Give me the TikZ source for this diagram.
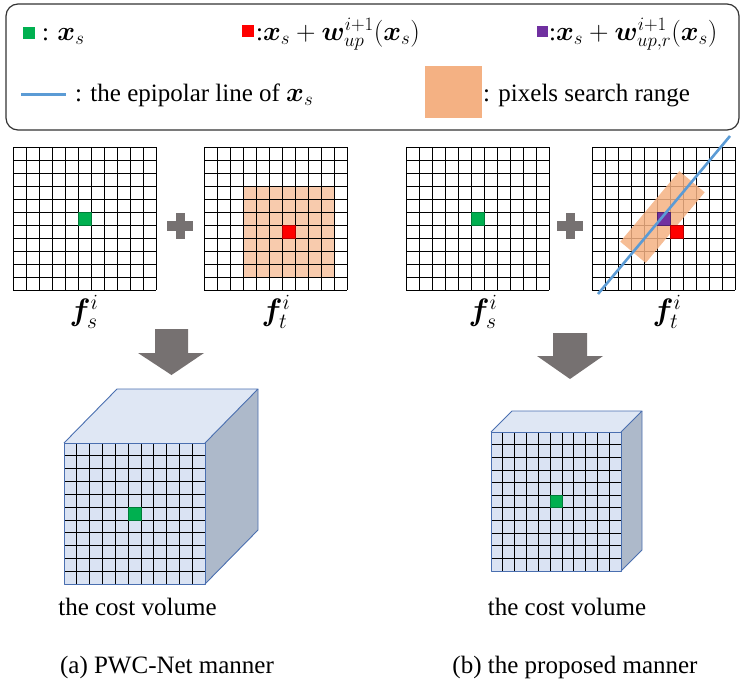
\RequirePackage{fix-cm}
\documentclass[tikz,border=0pt]{standalone}
\usepackage{amsmath,bm}
\usepackage{fontspec}
\setmainfont{Liberation Serif}
\definecolor{cgreen}{HTML}{00B050}
\definecolor{cred}{HTML}{FF0000}
\definecolor{cpurple}{HTML}{7030A0}
\definecolor{corange}{HTML}{F4B183}
\definecolor{corangelight}{HTML}{F8CBAD}
\definecolor{cblue}{HTML}{5B9BD5}
\definecolor{cgray}{HTML}{767171}
\definecolor{cubefront}{HTML}{DAE3F3}
\definecolor{cubetop}{HTML}{DFE7F4}
\definecolor{cubeside}{HTML}{ADB9CA}
\definecolor{cubeedge}{HTML}{4A6FB0}
\newcommand{\featgrid}[2]{%
  \foreach \i in {0,...,11} {
    \draw[gridline] ({#1+\i*13},#2) -- ++(0,143);
    \draw[gridline] (#1,{#2+\i*13}) -- ++(143,0);
  }}
\newcommand{\gridcell}[5]{% x0,y0,col,row,color
  \fill[#5, draw=#5!70!black, line width=0.7pt] ({#1+#3*13},{#2+#4*13}) rectangle ++(13,13);}
\newcommand{\bigmath}[1]{{\fontsize{27}{30}\selectfont$#1$}}
\begin{document}
\begin{tikzpicture}[x=1pt,y=-1pt,
  gridline/.style={line width=0.7pt, black},
  cubeline/.style={draw=cubeedge, line width=0.9pt, line join=round},
  lbl/.style={font=\fontsize{25}{30}\selectfont, inner sep=0pt},
  flbl/.style={font=\fontsize{31}{36}\selectfont, inner sep=0pt},
  plusarm/.style={fill=cgray},
  bigarrow/.style={fill=cgray}]
\useasboundingbox (0,0) rectangle (747,696);

% ---------- legend ----------
\draw[line width=1.2pt, black!80, rounded corners=12pt] (6,4) rectangle (739,130);
\fill[cgreen] (23,27) rectangle (35,39);
\node[lbl, anchor=base west] (lg1) at (42,40) {: \bigmath{\bm{x}_s}};
\fill[cred] (242,25) rectangle (254,37);
\node[lbl, anchor=base west] (lg2) at (256,40) {:\bigmath{\bm{x}_s+\bm{w}_{up}^{i+1}(\bm{x}_s)}};
\fill[cpurple] (537,26) rectangle (548,37);
\node[lbl, anchor=base west] (lg3) at (549,40) {:\bigmath{\bm{x}_s+\bm{w}_{up,r}^{i+1}(\bm{x}_s)}};
\draw[cblue, line width=3pt] (21,94) -- (66,94);
\node[lbl, anchor=base west] (lg4) at (75,101) {: the epipolar line of \bigmath{\bm{x}_s}};
\fill[corange] (425,66) rectangle (482,118);
\node[lbl, anchor=base west] (lg5) at (483,101) {: pixels search range};

% ---------- (a) grids ----------
\featgrid{13}{147}
\gridcell{13}{147}{5}{5}{cgreen}
\fill[corangelight] (243,186) rectangle (334,277);
\featgrid{204}{147}
\gridcell{204}{147}{6}{6}{cred}
\node[flbl] (fsa) at (84,312) {$\bm{f}_s^i$};
\node[flbl] (fta) at (276,312) {$\bm{f}_t^i$};
\fill[plusarm] (175.5,213) rectangle (184.5,239);
\fill[plusarm] (167,221) rectangle (193,231);

% ---------- (b) grids ----------
\featgrid{406}{147}
\gridcell{406}{147}{5}{5}{cgreen}
\featgrid{592}{147}
\fill[corange, opacity=0.85] (679.3,171.1) -- (704.7,192.3) -- (645.7,262.9) -- (620.3,241.7) -- cycle;
\gridcell{592}{147}{5}{5}{cpurple}
\gridcell{592}{147}{6}{6}{cred}
\draw[cblue, line width=2.6pt] (598,294) -- (730,136);
\node[flbl] (fsb) at (483,312) {$\bm{f}_s^i$};
\node[flbl] (ftb) at (667,312) {$\bm{f}_t^i$};
\fill[plusarm] (565.5,213) rectangle (574.5,239);
\fill[plusarm] (557,221) rectangle (583,231);

% ---------- arrows ----------
\fill[bigarrow] (155,329) -- (188,329) -- (188,353) -- (204,353) -- (171.5,375) -- (138,353) -- (155,353) -- cycle;
\fill[bigarrow] (553,333) -- (587,333) -- (587,356) -- (603,356) -- (570,379) -- (537,356) -- (553,356) -- cycle;

% ---------- cube (a) ----------
\fill[cubetop] (64,443) -- (117,389) -- (258,389) -- (205,443) -- cycle;
\fill[cubeside] (205,443) -- (258,389) -- (258,530) -- (205,584) -- cycle;
\fill[cubefront] (64,443) rectangle (205,584);
\foreach \i in {1,...,10} {
  \draw[gridline] ({64+\i*141/11},443) -- ++(0,141);
  \draw[gridline] (64,{443+\i*141/11}) -- ++(141,0);
}
\fill[cgreen, draw=cgreen!70!black, line width=0.7pt] ({64+5*141/11},{443+5*141/11}) rectangle ++(12.82,12.82);
\draw[cubeline] (64,443) rectangle (205,584);
\draw[cubeline] (64,443) -- (117,389) -- (258,389) -- (205,443);
\draw[cubeline] (258,389) -- (258,530) -- (205,584);
\node[lbl, anchor=base] (cva) at (137.5,615) {the cost volume};

% ---------- cube (b) ----------
\fill[cubetop] (491,432) -- (512,411) -- (642,411) -- (621,432) -- cycle;
\fill[cubeside] (621,432) -- (642,411) -- (642,550) -- (621,571) -- cycle;
\fill[cubefront] (491,432) rectangle (621,571);
\foreach \i in {1,...,10} {
  \draw[gridline] ({491+\i*130/11},432) -- ++(0,139);
  \draw[gridline] (491,{432+\i*139/11}) -- ++(130,0);
}
\fill[cgreen, draw=cgreen!70!black, line width=0.7pt] ({491+5*130/11},{432+5*139/11}) rectangle ++(11.82,12.64);
\draw[cubeline] (491,432) rectangle (621,571);
\draw[cubeline] (491,432) -- (512,411) -- (642,411) -- (621,432);
\draw[cubeline] (642,411) -- (642,550) -- (621,571);
\node[lbl, anchor=base] (cvb) at (567,615) {the cost volume};

% ---------- captions ----------
\node[lbl, anchor=base] (capa) at (167,673) {(a) PWC-Net manner};
\node[lbl, anchor=base] (capb) at (575,673) {(b) the proposed manner};
\end{tikzpicture}
\end{document}
